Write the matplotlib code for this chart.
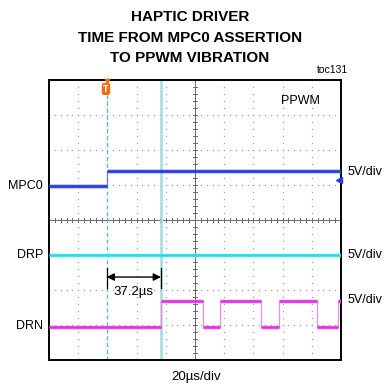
import matplotlib
matplotlib.use("Agg")
import matplotlib.pyplot as plt
import numpy as np

# ---- data (time in microseconds, level in screen divisions) ----
mpc0_t = [0.0, 39.5, 200.0]
mpc0_v = [4.97, 5.41, 5.41]
drp_t = [0.0, 200.0]
drp_v = [3.0, 3.0]
drn_t = [0.0, 76.7, 105.5, 117.1, 145.2, 157.5, 183.6, 197.9, 200.0]
drn_v = [0.95, 1.69, 0.95, 1.69, 0.95, 1.69, 0.95, 1.69, 1.69]
trigger_us = 39.5
cursor_us = 76.7
delta_label = "37.2µs"
channel_names = ["MPC0", "DRP", "DRN"]
channel_scales = ["5V/div", "5V/div", "5V/div"]
title_lines = ["HAPTIC DRIVER", "TIME FROM MPC0 ASSERTION", "TO PPWM VIBRATION"]
time_scale = "20µs/div"
us_per_div = 20.0
n_xdiv, n_ydiv = 10, 8

W = H = 387
fig = plt.figure(figsize=(3.87, 3.87), dpi=100)
fig.patch.set_facecolor("white")

def fx(px):
    return px / W

def fy(py):
    return 1 - py / H

L, R, T, B = 49, 341, 80, 360
ax = fig.add_axes([fx(L), fy(B), (R - L) / W, (B - T) / H])
xmax = n_xdiv * us_per_div
ax.set_xlim(0, xmax)
ax.set_ylim(0, n_ydiv)
ax.set_xticks([])
ax.set_yticks([])
for s in ax.spines.values():
    s.set_linewidth(1.4)
    s.set_color("black")

# grid dots
dot_c = "#a4a4a4"
for i in range(1, n_xdiv):
    if i == n_xdiv // 2:
        continue
    ys = np.arange(0, n_ydiv + 0.001, 0.2)
    ax.plot([i * us_per_div] * len(ys), ys, ls="none", marker="s", ms=0.9,
            mec="none", mfc=dot_c, zorder=1)
for j in range(1, n_ydiv):
    if j == n_ydiv // 2:
        continue
    xs = np.arange(0, xmax + 0.001, us_per_div / 5)
    ax.plot(xs, [j] * len(xs), ls="none", marker="s", ms=0.9,
            mec="none", mfc=dot_c, zorder=1)

# center cross with minor ticks
cc = "#6a6a6a"
ax.axvline(xmax / 2, color=cc, lw=0.7, zorder=1)
ax.axhline(n_ydiv / 2, color=cc, lw=0.7, zorder=1)
for xv in np.arange(0, xmax + 0.001, us_per_div / 5):
    ax.plot([xv, xv], [n_ydiv / 2 - 0.06, n_ydiv / 2 + 0.06], color=cc, lw=0.7, zorder=1)
for yv in np.arange(0, n_ydiv + 0.001, 0.2):
    ax.plot([xmax / 2 - 1.2, xmax / 2 + 1.2], [yv, yv], color=cc, lw=0.7, zorder=1)

# cursor lines
ax.axvline(trigger_us, color="#3cc4d4", lw=0.9, ls=(0, (3, 2.5)), zorder=2)
ax.axvline(cursor_us, color="#a6dada", lw=1.8, zorder=2)

# traces: thick fuzzy levels, thin edges
def trace(t, v, c, c2):
    for k in range(len(t) - 1):
        ax.plot([t[k], t[k + 1]], [v[k], v[k]], color=c2, lw=3.4, alpha=0.45,
                zorder=3, solid_capstyle="butt")
        ax.plot([t[k], t[k + 1]], [v[k], v[k]], color=c, lw=1.9, zorder=4,
                solid_capstyle="butt")
        if k + 1 < len(v) and v[k + 1] != v[k]:
            ax.plot([t[k + 1], t[k + 1]], [v[k], v[k + 1]], color=c2, lw=0.9,
                    zorder=3)

trace(mpc0_t, mpc0_v, "#2438dc", "#6f7cf0")
trace(drp_t, drp_v, "#1fdde6", "#8ff0f4")
trace(drn_t, drn_v, "#e030e0", "#f08af0")

# ground marker for MPC0
ax.plot([xmax - 1.5], [5.14], marker="<", ms=4, color="#2438dc", zorder=5, clip_on=False)

# delta-time annotation
ya = 2.37
for xv in (trigger_us, cursor_us):
    ax.plot([xv, xv], [2.06, 2.63], color="black", lw=0.9, zorder=6)
ax.annotate("", xy=(trigger_us, ya), xytext=(cursor_us, ya),
            arrowprops=dict(arrowstyle="<|-|>", color="black", lw=1.0,
                            mutation_scale=11, shrinkA=0, shrinkB=0), zorder=6)
ax.text((trigger_us + cursor_us) / 2, 1.95, delta_label, ha="center", va="center",
        fontsize=9.5, family="Liberation Sans", zorder=6)

# trigger marker
fig.text(fx(106), fy(89), "T", color="white", fontsize=5.5, fontweight="bold",
         ha="center", va="center", family="DejaVu Sans",
         bbox=dict(boxstyle="round,pad=0.2,rounding_size=0.3", fc="#f07010", ec="none"))
ax.plot([trigger_us], [n_ydiv - 0.03], marker="v", ms=3.2, color="#f07010",
        clip_on=False, zorder=7)

# labels
lab_y = [186, 255, 326]
for name, yy in zip(channel_names, lab_y):
    fig.text(fx(43), fy(yy), name, ha="right", va="center", fontsize=9,
             family="Liberation Sans")
for sc, yy in zip(channel_scales, [172, 255, 300]):
    fig.text(fx(348), fy(yy), sc, ha="left", va="center", fontsize=9,
             family="Liberation Sans")
fig.text(fx(300), fy(101), "PPWM", ha="center", va="center", fontsize=9,
         family="Liberation Sans")
fig.text(fx(333), fy(70), "toc131", ha="center", va="center", fontsize=7.5,
         family="Liberation Sans")
fig.text(fx(196), fy(377), time_scale, ha="center", va="center", fontsize=9.5,
         family="Liberation Sans")

for line, yy in zip(title_lines, [17, 37.5, 57.5]):
    fig.text(fx(190), fy(yy), line, ha="center", va="center", fontsize=11,
             fontweight="bold", family="Liberation Sans")

fig.savefig("out.png", dpi=100, facecolor="white")
